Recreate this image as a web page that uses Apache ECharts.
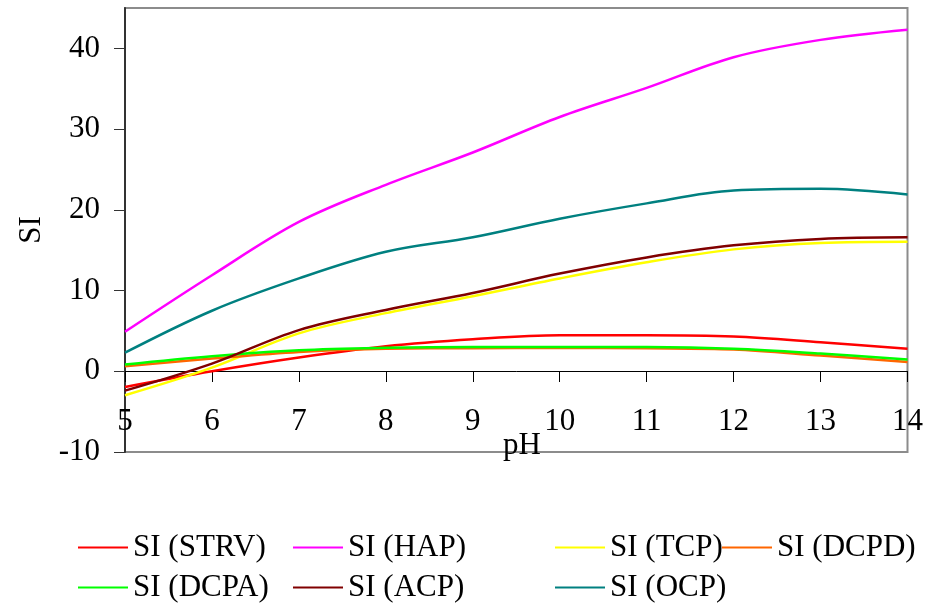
<!DOCTYPE html>
<html>
<head>
<meta charset="utf-8">
<script src="https://cdn.jsdelivr.net/npm/echarts@6/dist/echarts.min.js"></script>
<style>html,body{margin:0;padding:0;background:#fff}#c{width:926px;height:608px}</style>
</head>
<body>
<div id="c"></div>
<script>
var pH = [5, 6, 7, 8, 9, 10, 11, 12, 13, 14];
var STRV = [-1.94, 0.0, 1.7, 3.1, 3.96, 4.46, 4.46, 4.3, 3.6, 2.8];
var HAP  = [4.9, 11.9, 18.5, 23.1, 27.1, 31.5, 35.1, 38.9, 41.05, 42.3];
var TCP  = [-2.97, 0.45, 4.7, 7.2, 9.3, 11.5, 13.5, 15.1, 15.9, 16.05];
var DCPD = [0.62, 1.57, 2.4, 2.8, 2.85, 2.9, 2.85, 2.7, 1.95, 1.15];
var DCPA = [0.83, 1.86, 2.6, 2.9, 3.0, 3.0, 3.0, 2.8, 2.2, 1.45];
var ACP  = [-2.4, 0.95, 5.1, 7.6, 9.7, 12.1, 14.1, 15.6, 16.4, 16.6];
var OCP  = [2.3, 7.5, 11.5, 14.8, 16.6, 18.9, 20.8, 22.4, 22.6, 21.9];
var yTicks = [-10, 0, 10, 20, 30, 40];

var names = ['SI (STRV)', 'SI (HAP)', 'SI (TCP)', 'SI (DCPD)', 'SI (DCPA)', 'SI (ACP)', 'SI (OCP)'];
var values = [STRV, HAP, TCP, DCPD, DCPA, ACP, OCP];
var colors = ['#FF0000', '#FF00FF', '#FFFF00', '#FF6600', '#00FF00', '#800000', '#008080'];

var font = 'Liberation Serif';
var yMin = -10, yMax = 45, gridTop = 8, gridBottom = 156, H = 608;
var plotH = H - gridTop - gridBottom;
var zeroOffset = -Math.round(plotH * (0 - yMin) / (yMax - yMin));

function pairs(v) { return pH.map(function (x, i) { return [x, v[i]]; }); }

var series = names.map(function (n, i) {
  return {
    name: n, type: 'line', data: pairs(values[i]), smooth: 0.35,
    symbol: 'none', lineStyle: { color: colors[i], width: 2.5 },
    itemStyle: { color: colors[i] }, z: 2 + i
  };
});

function legendCol(left, items) {
  return {
    orient: 'vertical', left: left, top: 532, padding: 0,
    itemWidth: 50, itemHeight: 14, itemGap: 9,
    data: items, icon: 'path://M0,6L50,6L50,8L0,8Z',
    textStyle: { fontFamily: font, fontSize: 31, color: '#000', lineHeight: 31 }
  };
}

var chart = echarts.init(document.getElementById('c'), null, { renderer: 'canvas' });
chart.setOption({
  animation: false,
  backgroundColor: '#fff',
  grid: { left: 125, right: 18, top: gridTop, bottom: gridBottom, show: true, borderColor: '#8c8c8c', borderWidth: 2, backgroundColor: 'transparent' },
  legend: [
    legendCol(78, ['SI (STRV)', 'SI (DCPA)']),
    legendCol(293, ['SI (HAP)', 'SI (ACP)']),
    legendCol(555, ['SI (TCP)', 'SI (OCP)']),
    legendCol(722, ['SI (DCPD)'])
  ],
  graphic: [{
    type: 'text', left: 503, top: 430, z: 10,
    style: { text: 'pH', fill: '#000', font: '31px "Liberation Serif"' }
  }],
  xAxis: {
    type: 'value', min: 5, max: 14, interval: 1, position: 'bottom', offset: zeroOffset,
    axisLine: { onZero: false, lineStyle: { color: '#000', width: 1 } },
    axisTick: { length: 11, lineStyle: { color: '#000' } },
    axisLabel: { color: '#000', fontFamily: font, fontSize: 31, margin: 35 },
    splitLine: { show: false }
  },
  yAxis: {
    type: 'value', min: yMin, max: yMax, interval: 10,
    axisLine: { show: true, lineStyle: { color: '#333', width: 2 } },
    axisTick: { show: true, length: 11, customValues: yTicks, lineStyle: { color: '#333' } },
    axisLabel: { color: '#000', fontFamily: font, fontSize: 31, margin: 25, customValues: yTicks },
    splitLine: { show: false },
    name: 'SI', nameLocation: 'middle', nameGap: 75, nameRotate: 90,
    nameTextStyle: { color: '#000', fontFamily: font, fontSize: 31 }
  },
  series: series
});
</script>
</body>
</html>
